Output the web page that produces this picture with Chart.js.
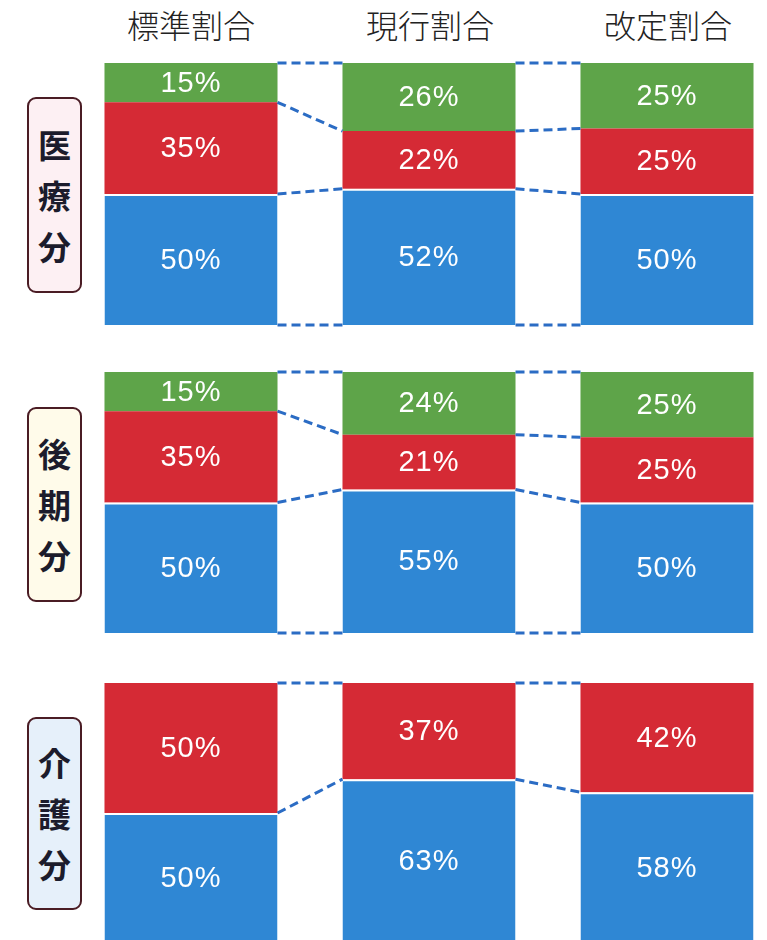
<!DOCTYPE html>
<html lang="ja">
<head>
    <meta charset="UTF-8">
    <title>保険税 割合</title>
    <script src="https://cdn.jsdelivr.net/npm/chart.js"></script>
    <style>
        html, body { margin: 0; padding: 0; background: #fff; overflow: hidden; }
        body { width: 767px; height: 940px; position: relative; }
        .head {
            position: absolute; top: 2px; width: 238px; text-align: center;
            font-family: "Noto Sans CJK JP", sans-serif; font-size: 32px; color: #222;
            font-weight: 300; line-height: 44px;
        }
        .side {
            position: absolute; left: 27px; width: 51px;
            border: 2px solid #4a1c24; border-radius: 9px;
            font-family: "Noto Sans CJK JP", sans-serif; font-weight: 700;
            font-size: 33px; color: #1c1c2c; text-align: center;
            display: flex; flex-direction: column; justify-content: center; line-height: 51px;
        }
        .box { position: absolute; left: 0; width: 786px; }
    </style>
</head>
<body>
    <div class="head" style="left:72px">標準割合</div>
    <div class="head" style="left:311px">現行割合</div>
    <div class="head" style="left:549px">改定割合</div>

    <div class="side" style="top:97px;height:192px;background:#fdf0f3">医<br>療<br>分</div>
    <div class="side" style="top:407px;height:191px;background:#fffbea">後<br>期<br>分</div>
    <div class="side" style="top:717px;height:189px;background:#e6f0fa">介<br>護<br>分</div>

    <div class="box" style="top:59px;height:270px"><canvas id="c0"></canvas></div>
    <div class="box" style="top:368px;height:269px"><canvas id="c1"></canvas></div>
    <div class="box" style="top:679px;height:268px"><canvas id="c2"></canvas></div>

    <script>
        // 列見出し
        const columns = ['標準割合', '現行割合', '改定割合'];

        // 医療分
        const iryoBlue = [50, 52, 50];
        const iryoRed = [35, 22, 25];
        const iryoGreen = [15, 26, 25];

        // 後期分
        const kokiBlue = [50, 55, 50];
        const kokiRed = [35, 21, 25];
        const kokiGreen = [15, 24, 25];

        // 介護分 (緑なし)
        const kaigoBlue = [50, 63, 58];
        const kaigoRed = [50, 37, 42];

        const BLUE = '#2f87d4';
        const RED = '#d52a35';
        const GREEN = '#5ea449';
        const DASH = '#2b6cc4';

        // 点線で段の境目をつなぐ + ％ラベル
        const extras = {
            id: 'extras',
            afterDatasetsDraw(chart) {
                const ctx = chart.ctx;
                const y = chart.scales.y;
                const metas = chart.data.datasets.map((d, i) => chart.getDatasetMeta(i));

                // 境目の値 (0, 各段の上端)
                const bounds = columns.map((c, i) => {
                    let acc = 0;
                    const b = [0];
                    chart.data.datasets.forEach(d => { acc += d.data[i]; b.push(acc); });
                    return b;
                });

                ctx.save();
                ctx.strokeStyle = DASH;
                ctx.lineWidth = 3;
                ctx.setLineDash([9, 5]);
                for (let i = 0; i < columns.length - 1; i++) {
                    const a = metas[0].data[i];
                    const b = metas[0].data[i + 1];
                    const x1 = a.x + a.width / 2;
                    const x2 = b.x - b.width / 2;
                    bounds[i].forEach((v, k) => {
                        ctx.beginPath();
                        ctx.moveTo(x1, y.getPixelForValue(v));
                        ctx.lineTo(x2, y.getPixelForValue(bounds[i + 1][k]));
                        ctx.stroke();
                    });
                }
                ctx.setLineDash([]);

                ctx.fillStyle = '#fff';
                ctx.font = '29px "Liberation Sans", Arial, sans-serif';
                ctx.letterSpacing = '1px';
                ctx.textAlign = 'center';
                ctx.textBaseline = 'middle';
                metas.forEach((m, di) => {
                    m.data.forEach((el, i) => {
                        const v = chart.data.datasets[di].data[i];
                        ctx.fillText(v + '%', el.x, (el.y + el.base) / 2 + 1);
                    });
                });
                ctx.restore();
            }
        };

        function makeChart(id, sets) {
            new Chart(document.getElementById(id), {
                type: 'bar',
                data: {
                    labels: columns,
                    datasets: sets.map(s => ({
                        data: s.data,
                        backgroundColor: s.color,
                        borderColor: '#ffffff',
                        borderWidth: s.line ? { top: 2, left: 0, right: 0, bottom: 0 } : 0,
                        borderSkipped: false,
                        categoryPercentage: 1,
                        barPercentage: 0.727
                    }))
                },
                options: {
                    responsive: true,
                    maintainAspectRatio: false,
                    animation: false,
                    layout: { padding: { left: 72, right: 0, top: 4, bottom: 4 } },
                    plugins: { legend: { display: false }, tooltip: { enabled: false } },
                    scales: {
                        x: { stacked: true, display: false },
                        y: { stacked: true, display: false, min: 0, max: 100 }
                    }
                },
                plugins: [extras]
            });
        }

        makeChart('c0', [
            { data: iryoBlue, color: BLUE, line: true },
            { data: iryoRed, color: RED },
            { data: iryoGreen, color: GREEN }
        ]);
        makeChart('c1', [
            { data: kokiBlue, color: BLUE, line: true },
            { data: kokiRed, color: RED },
            { data: kokiGreen, color: GREEN }
        ]);
        makeChart('c2', [
            { data: kaigoBlue, color: BLUE, line: true },
            { data: kaigoRed, color: RED }
        ]);
    </script>
</body>
</html>
